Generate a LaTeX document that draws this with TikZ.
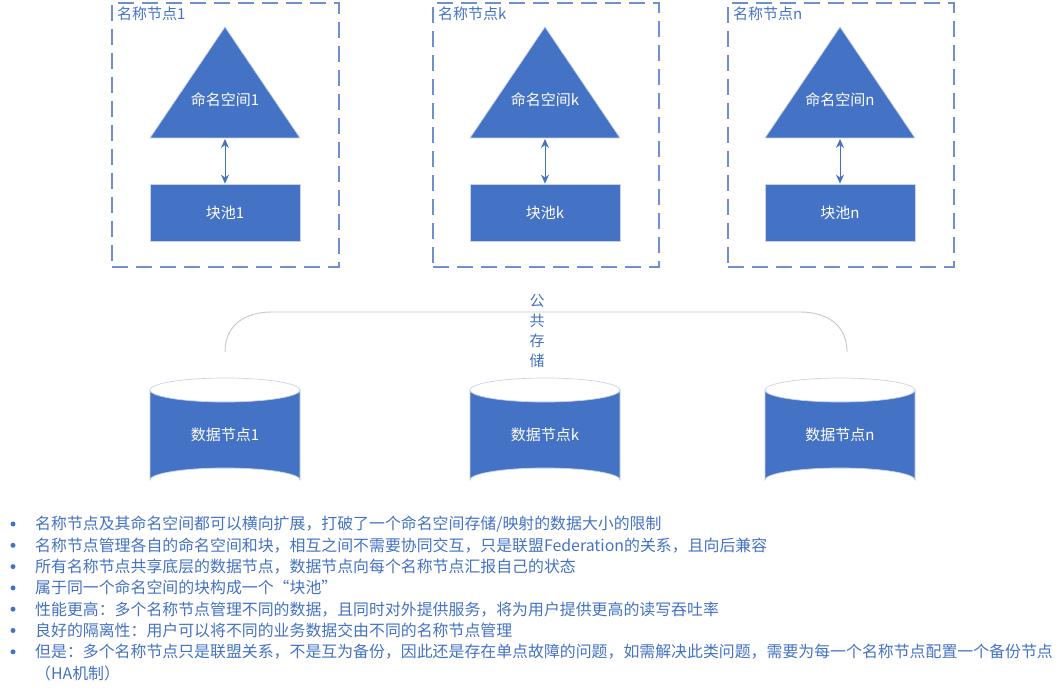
\documentclass[tikz,border=0pt]{standalone}
\usepackage{fontspec}
\setmainfont{Noto Sans CJK SC}
\usetikzlibrary{arrows.meta}
\definecolor{blu}{HTML}{4472C4}
\definecolor{dashc}{HTML}{6F8FD0}
\definecolor{edge}{HTML}{C9D3E8}
\definecolor{arcc}{HTML}{C8C8C8}
\begin{document}
\begin{tikzpicture}[x=1pt,y=-1pt,
  group/.style={draw=dashc, line width=1.7pt, dash pattern=on 16pt off 8pt, minimum width=#1, minimum height=264pt, anchor=north west, inner sep=0},
  grouplabel/.style={text=blu, font=\fontsize{15}{18}\selectfont, anchor=north west, inner sep=0},
  shapefill/.style={fill=blu, draw=edge, line width=0.7pt},
  inlabel/.style={text=white, font=\fontsize{15}{18}\selectfont, inner sep=0},
  pool/.style={shapefill, minimum width=150pt, minimum height=57pt, inner sep=0, text=white, font=\fontsize{15}{18}\selectfont},
  link/.style={{Stealth[length=9pt,width=8pt]}-{Stealth[length=9pt,width=8pt]}, draw=blu, line width=1pt},
  bullettext/.style={text=blu, anchor=west, inner sep=0, font=\fontsize{15.9}{18}\selectfont},
  dot/.style={circle, fill=blu, minimum size=5pt, inner sep=0}
]
\useasboundingbox (0,0) rectangle (1064,692);

\foreach \cx/\s/\gx/\gw in {225/1/111/227, 545/k/432/226, 840/n/727/226}{
  % dashed group
  \node[group=\gw pt] (g\s) at (\gx,2) {};
  \node[grouplabel] (gl\s) at (\gx+6,7) {名称节点\s};
  % namespace triangle
  \fill[shapefill] (\cx,27) -- (\cx+75,138) -- (\cx-75,138) -- cycle;
  \node[inlabel] (ns\s) at (\cx,100) {命名空间\s};
  \coordinate (tb\s) at (\cx,139);
  % block pool
  \node[pool] (bp\s) at (\cx,212.5) {块池\s};
  \draw[link] (tb\s) -- (bp\s.north);
  % data node cylinder
  \path[shapefill] (\cx-75,390) -- (\cx-75,480) arc[start angle=180, end angle=360, x radius=75, y radius=12] -- (\cx+75,390) arc[start angle=0, end angle=180, x radius=75, y radius=12] -- cycle;
  \draw[edge, line width=0.7pt] (\cx-75,390) arc[start angle=180, end angle=360, x radius=75, y radius=12];
  \node[inlabel] (dn\s) at (\cx,435) {数据节点\s};
}

% shared storage bracket
\draw[arcc, line width=0.9pt] (225,352) .. controls (225,325) and (245,312) .. (272,312) -- (800,312) .. controls (827,312) and (847,325) .. (847,352);
\node[text=blu, font=\fontsize{15}{20}\selectfont, align=center, inner sep=0] (ss) at (537,331) {公\\共\\存\\储};

% bullet list
\foreach \i/\t in {
  0/{名称节点及其命名空间都可以横向扩展，打破了一个命名空间存储/映射的数据大小的限制},
  1/{名称节点管理各自的命名空间和块，相互之间不需要协同交互，只是联盟Federation的关系，且向后兼容},
  2/{所有名称节点共享底层的数据节点，数据节点向每个名称节点汇报自己的状态},
  3/{属于同一个命名空间的块构成一个“块池”},
  4/{性能更高：多个名称节点管理不同的数据，且同时对外提供服务，将为用户提供更高的读写吞吐率},
  5/{良好的隔离性：用户可以将不同的业务数据交由不同的名称节点管理},
  6/{但是：多个名称节点只是联盟关系，不是互为备份，因此还是存在单点故障的问题，如需解决此类问题，需要为每一个名称节点配置一个备份节点}}{
  \node[dot] (d\i) at (13,524+21.3*\i) {};
  \node[bullettext] (b\i) at (35,524+21.3*\i) {\t};
}
\node[bullettext] (b7) at (35,673) {（HA机制）};
\end{tikzpicture}
\end{document}
